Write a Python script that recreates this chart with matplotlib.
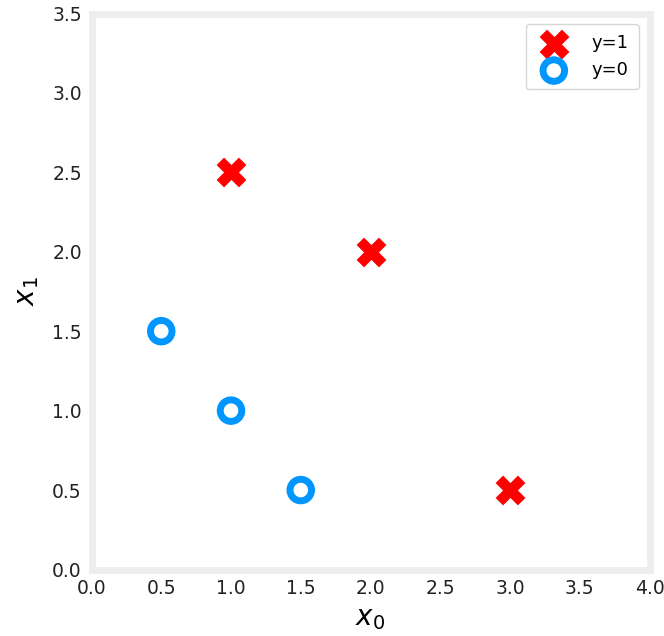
import matplotlib
matplotlib.use("Agg")
import matplotlib.pyplot as plt
import numpy as np

# training data
x0 = np.array([0.5, 1.0, 1.5, 3.0, 2.0, 1.0])
x1 = np.array([1.5, 1.0, 0.5, 0.5, 2.0, 2.5])
y = np.array([0, 0, 0, 1, 1, 1])

dlblue = '#0096ff'

fig = plt.figure(figsize=(6.64, 6.36), dpi=100)
# axes frame centred on x 91.5..649.5, y 13.5..569.5 (pixels)
ax = fig.add_axes([91.5 / 664, (636 - 569.5) / 636, 558 / 664, 556 / 636])

pos = y == 1
neg = y == 0
ax.scatter(x0[pos], x1[pos], marker='X', s=460, c='red', linewidths=0, label='y=1', zorder=3)
ax.scatter(x0[neg], x1[neg], marker='o', s=240, facecolors='none', edgecolors=dlblue,
           linewidths=5, label='y=0', zorder=3)

ax.set_xlim(0, 4)
ax.set_ylim(0, 3.5)
ax.set_xticks(np.arange(0, 4.01, 0.5))
ax.set_yticks(np.arange(0, 3.51, 0.5))
ax.tick_params(length=0, labelsize=13.5, colors='#222222', pad=7)
for s in ax.spines.values():
    s.set_color('#eeeeee')
    s.set_linewidth(5)

ax.set_xlabel('$x_0$', fontsize=20, labelpad=4)
ax.set_ylabel('$x_1$', fontsize=20, labelpad=8)
ax.legend(loc='upper right', fontsize=13, frameon=True, borderaxespad=0.6,
          borderpad=0.55, handletextpad=1.1, labelspacing=0.5)

fig.savefig('out.png', dpi=100)
